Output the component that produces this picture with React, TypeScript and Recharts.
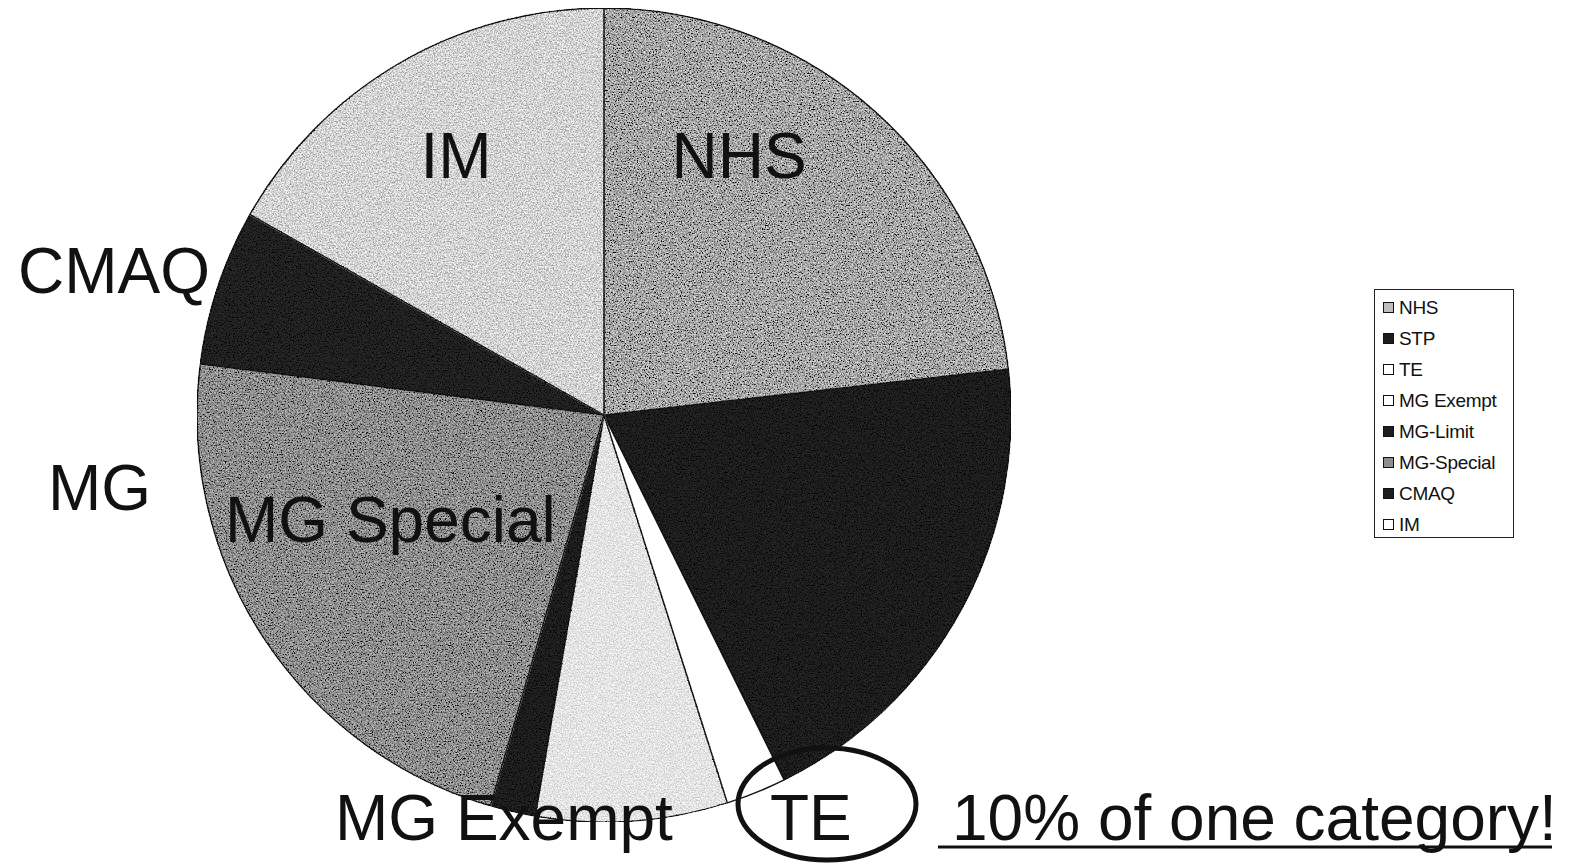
import React from 'react';
import { PieChart, Pie, Cell, Legend } from 'recharts';

// slice shares, clockwise from 12 o'clock (percent of total)
const categories = ['NHS', 'STP', 'TE', 'MG Exempt', 'MG-Limit', 'MG-Special', 'CMAQ', 'IM'];
const shares = [23.2, 19.5, 2.4, 7.6, 1.8, 22.5, 6.2, 16.8];
const sliceColors = ['#a6a6a6', '#1d1d1d', '#ffffff', '#e4e4e4', '#1d1d1d', '#8e8e8e', '#202020', '#d4d4d4'];
const swatchColors = ['#bdbdbd', '#1d1d1d', '#ffffff', '#ffffff', '#1d1d1d', '#8e8e8e', '#1d1d1d', '#ffffff'];

const note = '10% of one category!';

const data = categories.map((name, i) => ({ name, value: shares[i] }));

const FONT = '"Liberation Sans", Arial, Helvetica, sans-serif';

function LegendBox() {
  return (
    <div
      style={{
        width: 140,
        height: 249,
        border: '1.5px solid #222',
        background: '#fff',
        fontFamily: FONT,
        fontSize: 19,
        color: '#111',
        boxSizing: 'border-box',
        paddingTop: 2,
        overflow: 'hidden',
        whiteSpace: 'nowrap',
      }}
    >
      {categories.map((c, i) => (
        <div key={c} style={{ display: 'flex', alignItems: 'center', height: 31, paddingLeft: 8, letterSpacing: -0.3 }}>
          <span
            style={{
              display: 'inline-block',
              width: 9,
              height: 9,
              border: '1.5px solid #111',
              background: swatchColors[i],
              marginRight: 5,
              flex: 'none',
            }}
          />
          <span>{c}</span>
        </div>
      ))}
    </div>
  );
}

export default function App() {
  const txt = { fontFamily: FONT, fontSize: 64, fill: '#111' } as const;
  return (
    <div style={{ position: 'absolute', left: 0, top: 0, width: 1572, height: 863, background: '#fff' }}>
      <PieChart width={1572} height={863} margin={{ top: 0, right: 0, bottom: 0, left: 0 }}>
        <defs>
          <filter id="speckle" x="0" y="0" width="100%" height="100%">
            <feTurbulence type="fractalNoise" baseFrequency="0.75" numOctaves="2" seed="7" result="n" />
            <feColorMatrix in="n" type="matrix" values="1 0 0 0 0  1 0 0 0 0  1 0 0 0 0  0 0 0 0 1" result="g" />
            <feComponentTransfer in="g" result="c">
              <feFuncR type="linear" slope="2.2" intercept="-0.6" />
              <feFuncG type="linear" slope="2.2" intercept="-0.6" />
              <feFuncB type="linear" slope="2.2" intercept="-0.6" />
            </feComponentTransfer>
            <feBlend in="c" in2="SourceGraphic" mode="overlay" result="b" />
            <feComposite in="b" in2="SourceGraphic" operator="in" />
          </filter>
        </defs>
        <Pie
          data={data}
          dataKey="value"
          nameKey="name"
          cx={604}
          cy={415}
          outerRadius={407}
          startAngle={90}
          endAngle={-270}
          stroke="#111"
          strokeWidth={1.5}
          isAnimationActive={false}
        >
          {data.map((d, i) => (
            <Cell key={d.name} fill={sliceColors[i]} filter={i === 2 ? undefined : 'url(#speckle)'} />
          ))}
        </Pie>
        <Legend
          content={() => <LegendBox />}
          wrapperStyle={{ left: 1374, top: 289, width: 140, height: 249 }}
        />
      </PieChart>
      <svg
        width={1572}
        height={863}
        style={{ position: 'absolute', left: 0, top: 0, pointerEvents: 'none' }}
      >
        <text x={739} y={178} textAnchor="middle" style={txt}>NHS</text>
        <text x={456} y={178} textAnchor="middle" style={txt}>IM</text>
        <text x={18} y={293} style={txt}>CMAQ</text>
        <text x={48} y={510} style={txt}>MG</text>
        <text x={225} y={542} style={txt}>MG Special</text>
        <text x={335} y={840} style={txt}>MG Exempt</text>
        <text x={770} y={840} style={txt}>TE</text>
        <ellipse cx={827} cy={804} rx={89} ry={56} fill="none" stroke="#111" strokeWidth={5} />
        <text x={952} y={840} style={txt}>{note}</text>
        <line x1={938} y1={847} x2={1552} y2={847} stroke="#111" strokeWidth={3} />
      </svg>
    </div>
  );
}
